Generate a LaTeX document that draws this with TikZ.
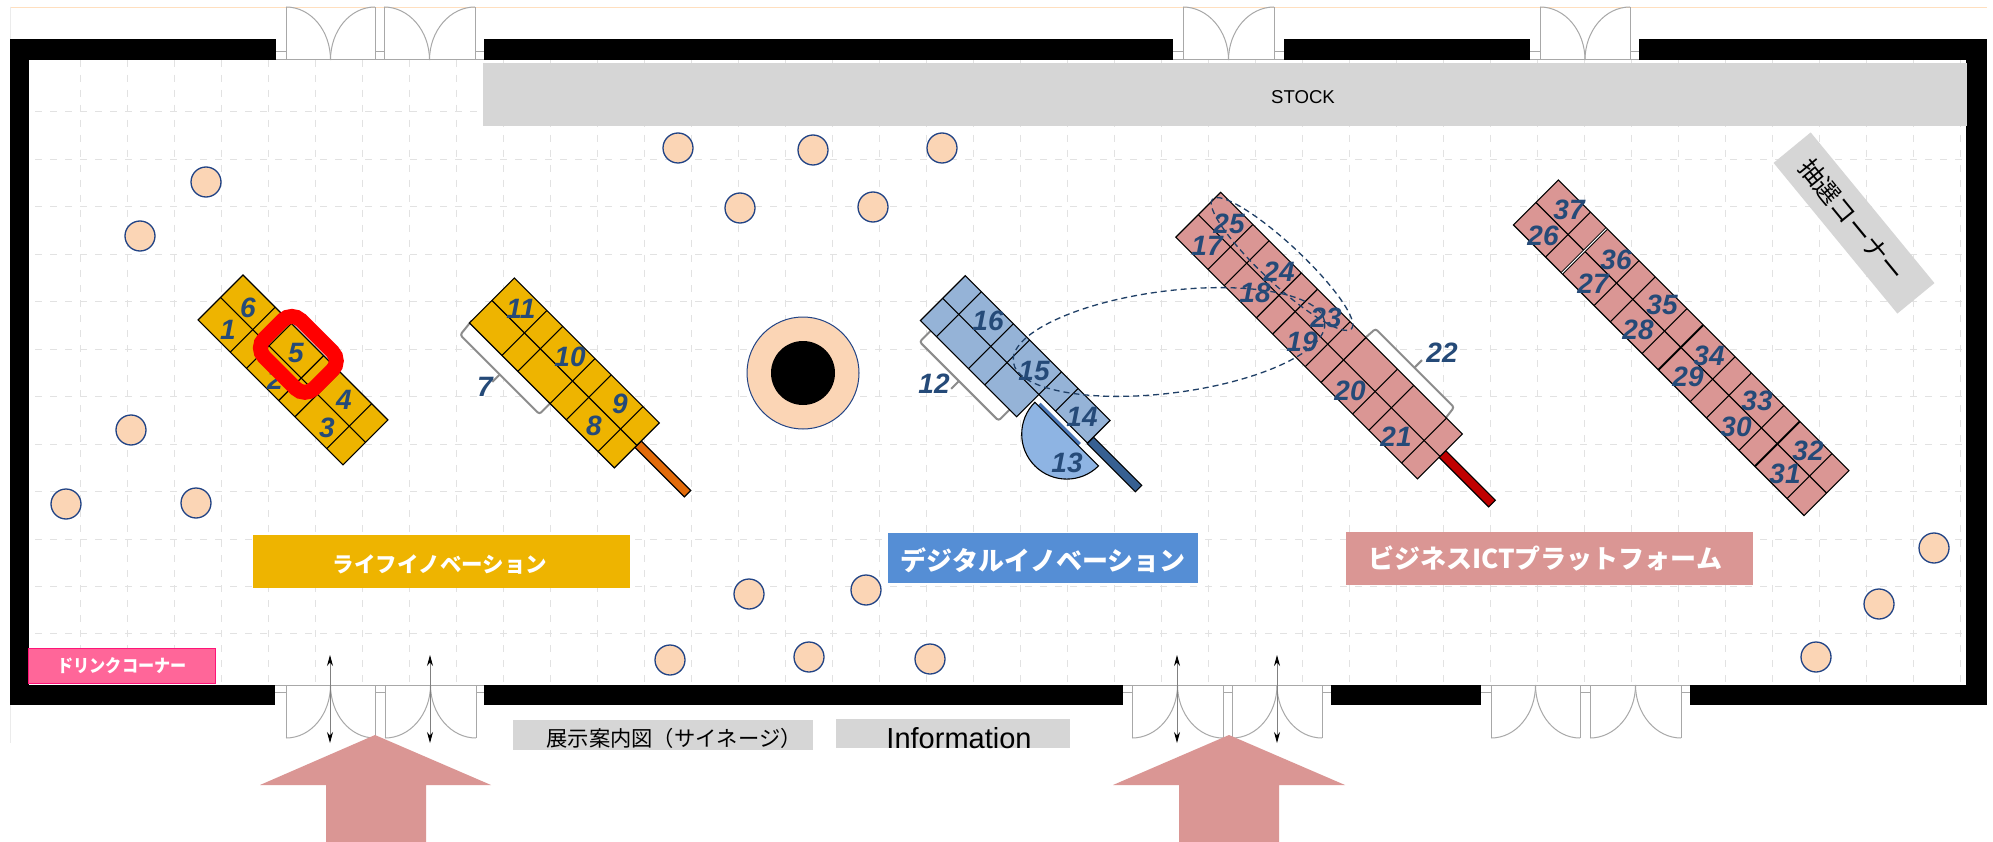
\documentclass[tikz,border=0pt]{standalone}
\usepackage{fontspec}
\usepackage{graphicx}
\setmainfont{Liberation Sans}
\newfontfamily\cjk{Noto Sans CJK JP}
\usetikzlibrary{arrows.meta,shapes.geometric}
\definecolor{cgold}{HTML}{EEB400}
\definecolor{cpink}{HTML}{DA9694}
\definecolor{cblue}{HTML}{95B3D7}
\definecolor{cnavy}{HTML}{254A78}
\definecolor{cpeach}{HTML}{FBD5B5}
\definecolor{cgrey}{HTML}{D6D6D6}
\definecolor{cgrid}{HTML}{E2E2E2}
\definecolor{cdoor}{HTML}{A8A8A8}
\tikzset{
  wall/.style={fill=black,draw=none},
  gridline/.style={draw=cgrid,line width=1pt,dash pattern=on 7pt off 8pt},
  seat/.style={circle,draw=cnavy!90!blue,line width=1.3pt,fill=cpeach,minimum size=30pt,inner sep=0pt},
  num/.style={text=cnavy,font=\bfseries\itshape\fontsize{28}{28}\selectfont,inner sep=0pt},
  cell/.style={draw=black,line width=1.1pt},
  bracket/.style={draw=gray!90,line width=2pt,fill=white,rounded corners=2.5pt},
  tick/.style={draw=gray!90,line width=2pt},
  doorline/.style={draw=cdoor,line width=1pt},
  dashcurve/.style={draw=cnavy!85!black,line width=1.3pt,dash pattern=on 6pt off 4pt},
  greybox/.style={fill=cgrey,draw=none},
  bandlabel/.style={text=white,inner sep=0pt},
  bigarrow/.style={fill=cpink,draw=none},
  swing/.style={draw=gray,line width=.8pt,{Stealth[length=11pt,width=6pt,black]}-{Stealth[length=11pt,width=6pt,black]}}
}
% a stand: origin of its top corner, length, colour, list of cross lines
\newcommand{\standband}[5]{%
  \begin{scope}[shift={(#1,#2)},rotate=-45]
    \fill[#4] (0,0) rectangle (#3,63.5);
    \draw[cell] (0,0) rectangle (#3,63.5);
    \draw[cell] (0,31.7) -- (#3,31.7);
    \foreach \a in {#5} {\draw[cell] (\a,0) -- (\a,63.5);}
  \end{scope}}
% doors: L, R leaf edges, base y, far y
\newcommand{\doorleaf}[4]{%
  \pgfmathsetmacro{\jx}{(#1+#2)/2}
  \draw[doorline] (#1,#3) -- (#1,#4) (#2,#3) -- (#2,#4);
  \draw[doorline] (#1,#4) .. controls ({#1+25},#4) and (\jx,{#4+(#3-#4)*0.45}) .. (\jx,#3);
  \draw[doorline] (#2,#4) .. controls ({#2-25},#4) and (\jx,{#4+(#3-#4)*0.45}) .. (\jx,#3);}
\begin{document}
\begin{tikzpicture}[x=1pt,y=-1pt]
\useasboundingbox (0,0) rectangle (1993,842);
\fill[white] (0,0) rectangle (1993,842);
% frame of the plan
\draw[draw=orange!25,line width=.9pt] (10,7) -- (1987,7);
\draw[draw=black!8,line width=.7pt] (10,7) -- (10,743);
% grid
\foreach \k in {0,...,40} {\draw[gridline] ({80+47*\k},60) -- ({80+47*\k},685);}
\foreach \k in {0,...,11} {\draw[gridline] (35,{112+47.45*\k}) -- (1962,{112+47.45*\k});}
% walls
\fill[wall] (10,39) rectangle (276,60);
\fill[wall] (484,39) rectangle (1173,60);
\fill[wall] (1284,39) rectangle (1530,60);
\fill[wall] (1639,39) rectangle (1987,60);
\fill[wall] (10,685) rectangle (275,705);
\fill[wall] (484,685) rectangle (1123,705);
\fill[wall] (1331,685) rectangle (1481,705);
\fill[wall] (1690,685) rectangle (1987,705);
\fill[wall] (10,39) rectangle (29,705);
\fill[wall] (1966,39) rectangle (1987,705);
% doors, top
\draw[doorline] (276,60) -- (484,60) (1173,60) -- (1284,60) (1530,60) -- (1639,60);
\doorleaf{286}{375}{60}{7}\doorleaf{384}{475}{60}{7}
\doorleaf{1183}{1274}{60}{7}
\doorleaf{1540}{1630}{60}{7}
\foreach \p/\q in {276/286,375/384,475/484,1173/1183,1274/1284,1530/1540,1630/1639} {\draw[doorline] (\p,52) -- (\q,52);}
% doors, bottom
\draw[doorline] (275,685) -- (484,685) (1123,685) -- (1331,685) (1481,685) -- (1690,685);
\doorleaf{286}{375}{685}{738}\doorleaf{385}{476}{685}{738}
\doorleaf{1132}{1223}{685}{738}\doorleaf{1232}{1322}{685}{738}
\doorleaf{1491}{1580}{685}{738}\doorleaf{1590}{1681}{685}{738}
\foreach \p/\q in {275/286,375/385,476/484,1123/1132,1223/1232,1322/1331,1481/1491,1580/1590,1681/1690} {\draw[doorline] (\p,692) -- (\q,692);}
\foreach \x in {330,430,1177,1277} {\draw[swing] (\x,655) -- (\x,743);}
% stock
\node[greybox,minimum width=1484pt,minimum height=63pt,inner sep=0pt,anchor=north west] (stock) at (483,63) {};
\node[font=\fontsize{18.6}{18.6}\selectfont,inner sep=0pt] (stocktext) at (1303,97) {STOCK};
% lottery corner
\node[greybox,rotate=-50.6,minimum width=195pt,minimum height=48pt,inner sep=0pt] (lot) at (1854,223) {};
\node[rotate=-50.6,font=\cjk\fontsize{25}{25}\selectfont,inner sep=0pt] (lottext) at (1852,220) {抽選コーナー};
% seats
\foreach \x/\y [count=\i] in {206/182,140/236,131/430,66/504,196/503,678/148,813/150,942/148,740/208,873/207,749/594,866/590,670/660,809/657,930/659,1816/657,1879/604,1934/548} {
  \node[seat] (seat\i) at (\x,\y) {};}
% pillar
\node[circle,draw=cnavy!90!blue,line width=1pt,fill=cpeach,minimum size=112pt,inner sep=0pt] (pillar) at (803,373) {};
\node[circle,fill=black,minimum size=64pt,inner sep=0pt] (pillarcore) at (803,373) {};
% stand 1
\standband{243}{275}{205}{cgold}{45.5,68.5,114,137,182}
\node[num] (n1) at (228,330) {1};
\node[num] (n6) at (248,308) {6};
\node[num] (n2) at (275,380) {2};
\node[num] (n4) at (344,400) {4};
\node[num] (n3) at (327,428) {3};
\begin{scope}[shift={(243,275)},rotate=-45]
  \draw[draw=red,line width=15pt,rounded corners=13pt] (60,-9) rectangle (130.5,43);
\end{scope}
\node[num] (n5) at (296,353) {5};
% stand 2
\begin{scope}[shift={(514.3,278)},rotate=-45]
  \draw[cell,fill={rgb,255:red,226;green,107;blue,10}] (205,25.5) rectangle (275,34.5);
  \draw[bracket] (0,60) -- (2,78.5) -- (114,78.5) -- (114,60);
  \draw[tick] (58,78.5) -- (58,89);
\end{scope}
\standband{514.3}{278}{205}{cgold}{46,68.5,114,137,182}
\node[num] (n11) at (521,309) {11};
\node[num] (n10) at (570,357) {10};
\node[num] (n9) at (620,404) {9};
\node[num] (n8) at (594,426) {8};
\node[num] (n7) at (485,387) {7};
% stand 3
\begin{scope}[shift={(965.3,275.7)},rotate=-45]
  \draw[cell,fill={rgb,255:red,55;green,96;blue,146}] (205,23.5) rectangle (273,32.5);
  \draw[bracket] (14.5,60) -- (14.5,79) -- (126,79) -- (126,60);
  \draw[tick] (70,79) -- (70,90);
  \fill[cblue] (0,0) -- (204.7,0) -- (204.7,32) -- (136,32) -- (136,63.5) -- (0,63.5) -- cycle;
  \draw[cell] (0,0) -- (204.7,0) -- (204.7,32) -- (136,32) -- (136,63.5) -- (0,63.5) -- cycle;
  \draw[cell] (0,32) -- (136,32);
  \foreach \a in {22.7,68,91} {\draw[cell] (\a,0) -- (\a,63.5);}
  \draw[cell] (136,0) -- (136,32) (159.5,0) -- (159.5,32);
  \fill[fill={rgb,255:red,70;green,115;blue,180}] (143,36.5) rectangle (200,40);
  \draw[cell,fill={rgb,255:red,142;green,180;blue,227}] (138.7,40.3) arc[start angle=180,end angle=0,radius=45] -- cycle;
\end{scope}
\node[num] (n16) at (988,321) {16};
\node[num] (n15) at (1034,371) {15};
\node[num] (n14) at (1082,417) {14};
\node[num] (n13) at (1067,463) {13};
\node[num] (n12) at (934,384) {12};
% stand 4
\begin{scope}[shift={(1220.7,192.3)},rotate=-45]
  \draw[cell,fill={rgb,255:red,192;green,0;blue,0}] (342,23.5) rectangle (412,33);
  \draw[bracket] (205,3) -- (206,-13) -- (317,-13) -- (319,3);
  \draw[tick] (261,-13) -- (261,-23.7);
\end{scope}
\standband{1220.7}{192.3}{341.8}{cpink}{45.5,68.5,114,137,183,205.4,250,273,319.3}
% dashed outlines
\node[ellipse,dashcurve,rotate=7.3,minimum width=314pt,minimum height=102pt,inner sep=0pt] (orbit) at (1169,342) {};
\node[ellipse,dashcurve,rotate=-43,minimum width=190pt,minimum height=40pt,inner sep=0pt] (orbittwo) at (1282,264) {};
\node[num] (n25) at (1229,224) {25};
\node[num] (n17) at (1207,246) {17};
\node[num] (n24) at (1279,272) {24};
\node[num] (n18) at (1255,293) {18};
\node[num] (n23) at (1326,318) {23};
\node[num] (n19) at (1302,342) {19};
\node[num] (n22) at (1442,353) {22};
\node[num] (n20) at (1350,391) {20};
\node[num] (n21) at (1396,437) {21};
% stand 5
\standband{1558.3}{180}{411}{cpink}{45.5,114,137,182,250,273,319,387}
\begin{scope}[shift={(1558.3,180)},rotate=-45]
  \draw[black,line width=3pt] (68.5,0) -- (68.5,63.5);
  \draw[white,line width=1.1pt] (68.5,0.5) -- (68.5,63);
  \draw[black,line width=2pt] (205,0) -- (205,63.5);
  \draw[black,line width=2pt] (341.5,0) -- (341.5,63.5);
\end{scope}
\node[num] (n37) at (1569,210) {37};
\node[num] (n26) at (1543,236) {26};
\node[num] (n36) at (1616,260) {36};
\node[num] (n27) at (1593,284) {27};
\node[num] (n35) at (1662,305) {35};
\node[num] (n28) at (1638,330) {28};
\node[num] (n34) at (1709,356) {34};
\node[num] (n29) at (1688,377) {29};
\node[num] (n33) at (1757,401) {33};
\node[num] (n30) at (1736,427) {30};
\node[num] (n32) at (1808,451) {32};
\node[num] (n31) at (1785,474) {31};
% section bands
\fill[cgold] (253,535) rectangle (630,588);
\node[bandlabel,font=\cjk\bfseries\fontsize{21.5}{21.5}\selectfont] (lifelabel) at (440,565) {ライフイノベーション};
\fill[fill={rgb,255:red,85;green,142;blue,213}] (888,533) rectangle (1198,583);
\node[bandlabel,font=\cjk\bfseries\fontsize{26}{26}\selectfont] (digilabel) at (1043,560) {デジタルイノベーション};
\fill[cpink] (1346,532) rectangle (1753,585);
\node[bandlabel,font=\cjk\bfseries\fontsize{26}{26}\selectfont] (bizlabel) at (1545,558) {ビジネスICTプラットフォーム};
% drink corner
\node[draw={rgb,255:red,255;green,20;blue,120},fill={rgb,255:red,255;green,102;blue,153},line width=1pt,minimum width=187pt,minimum height=35pt,inner sep=0pt,anchor=north west] (drink) at (28,648) {};
\node[bandlabel] (drinktext) at (122,666) {\resizebox{129pt}{15pt}{\cjk\bfseries ドリンクコーナー}};
% signage
\fill[cgrey] (513,720) rectangle (813,750);
\node[inner sep=0pt,font=\cjk\fontsize{21.3}{21.3}\selectfont] (signtext) at (674,738) {展示案内図（サイネージ）};
\fill[cgrey] (836,719) rectangle (1070,748);
\node[inner sep=0pt,anchor=base,font=\fontsize{29}{29}\selectfont] (infotext) at (959,748) {Information};
% entrance arrows
\fill[bigarrow] (375,735) -- (491,785) -- (426,785) -- (426,842) -- (326,842) -- (326,785) -- (260,785) -- cycle;
\fill[bigarrow] (1229,735) -- (1345,785) -- (1279,785) -- (1279,842) -- (1179,842) -- (1179,785) -- (1113,785) -- cycle;
\end{tikzpicture}
\end{document}
